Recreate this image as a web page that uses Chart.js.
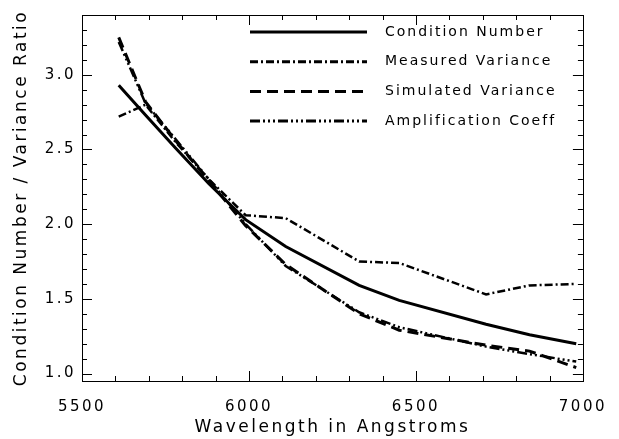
<!DOCTYPE html>
<html lang="en">
  <head>
    <meta charset="UTF-8" />
    <script src="https://cdn.jsdelivr.net/npm/chart.js@4.4.1/dist/chart.umd.min.js"></script>
    <title>Condition Number / Variance Ratio</title>
    <style>
      body { margin: 0; background: #fff; }
      #wrap { width: 619px; height: 439px; }
    </style>
  </head>
  <body>
    <div id="wrap"><canvas id="myChart" width="619" height="439"></canvas></div>
    <script>
      // values
      const wavelength = [5610, 5690, 5780, 5880, 5990, 6110, 6330, 6450, 6710, 6840, 6980];
      const conditionNumber = [2.93, 2.73, 2.51, 2.27, 2.03, 1.85, 1.59, 1.49, 1.33, 1.26, 1.20];
      const measuredVariance = [2.72, 2.80, 2.55, 2.30, 2.06, 2.04, 1.75, 1.74, 1.53, 1.59, 1.60];
      const simulatedVariance = [3.25, 2.82, 2.56, 2.29, 1.99, 1.73, 1.40, 1.29, 1.19, 1.15, 1.04];
      const amplificationCoeff = [3.22, 2.81, 2.57, 2.30, 2.00, 1.72, 1.41, 1.31, 1.18, 1.13, 1.08];
      const xTicks = [5500, 6000, 6500, 7000];
      const yTicks = [1.0, 1.5, 2.0, 2.5, 3.0];

      const pts = (ys) => wavelength.map((x, i) => ({ x: x, y: ys[i] }));

      // IDL style frame with inward major/minor ticks, and a plain legend
      const idlFrame = {
        id: "idlFrame",
        beforeDraw(chart) {
          chart.ctx.letterSpacing = "2.5px";
        },
        afterDatasetsDraw(chart) {
          const ctx = chart.ctx;
          const a = chart.chartArea;
          const xs = chart.scales.x;
          const ys = chart.scales.y;
          ctx.save();
          ctx.strokeStyle = "#000";
          ctx.lineWidth = 1;
          ctx.setLineDash([]);
          ctx.strokeRect(Math.round(a.left) + 0.5, Math.round(a.top) + 0.5,
            Math.round(a.right - a.left), Math.round(a.bottom - a.top));
          ctx.beginPath();
          for (let v = 5500; v <= 7000; v += 100) {
            const px = Math.round(xs.getPixelForValue(v)) + 0.5;
            const len = v % 500 === 0 ? 10 : 5;
            ctx.moveTo(px, a.bottom); ctx.lineTo(px, a.bottom - len);
            ctx.moveTo(px, a.top); ctx.lineTo(px, a.top + len);
          }
          for (let k = 10; k <= 33; k++) {
            const v = k / 10;
            const py = Math.round(ys.getPixelForValue(v)) + 0.5;
            const len = k % 5 === 0 ? 10 : 5;
            ctx.moveTo(a.left, py); ctx.lineTo(a.left + len, py);
            ctx.moveTo(a.right, py); ctx.lineTo(a.right - len, py);
          }
          ctx.stroke();

          // legend
          ctx.font = "14px 'DejaVu Sans'";
          ctx.letterSpacing = "2px";
          ctx.fillStyle = "#000";
          ctx.textBaseline = "middle";
          ctx.textAlign = "left";
          chart.data.datasets.forEach((ds, i) => {
            const y = 32 + i * 29.7;
            ctx.beginPath();
            ctx.lineWidth = 3;
            ctx.setLineDash(ds.borderDash || []);
            ctx.moveTo(250, y);
            ctx.lineTo(367, y);
            ctx.stroke();
            ctx.fillText(ds.label, 385, y);
          });
          ctx.restore();
        },
      };

      const ctx = document.getElementById("myChart").getContext("2d");
      Chart.defaults.font.family = "'DejaVu Sans'";
      Chart.defaults.font.size = 15;
      Chart.defaults.color = "#000";

      const myChart = new Chart(ctx, {
        type: "line",
        data: {
          datasets: [
            { label: "Condition Number", data: pts(conditionNumber), borderDash: [], borderWidth: 3 },
            { label: "Measured Variance", data: pts(measuredVariance), borderDash: [8, 3, 2, 3], borderWidth: 2.5 },
            { label: "Simulated Variance", data: pts(simulatedVariance), borderDash: [11, 6], borderWidth: 3 },
            { label: "Amplification Coeff", data: pts(amplificationCoeff), borderDash: [10, 3, 2, 3, 2, 3, 2, 3], borderWidth: 2.5 },
          ].map((d) => Object.assign(d, {
            borderColor: "#000",
            backgroundColor: "#000",
            pointRadius: 0,
            tension: 0,
            fill: false,
          })),
        },
        options: {
          responsive: false,
          animation: false,
          layout: { padding: { top: 9, right: 33, left: 0, bottom: 0 } },
          plugins: { legend: { display: false }, tooltip: { enabled: false } },
          scales: {
            x: {
              type: "linear",
              min: 5500,
              max: 7000,
              grid: { display: false, drawTicks: false },
              border: { display: false },
              afterBuildTicks: (s) => { s.ticks = xTicks.map((v) => ({ value: v })); },
              ticks: { padding: 17, maxRotation: 0, callback: (v) => String(v) },
              title: { display: true, text: "Wavelength in Angstroms", font: { size: 17 }, padding: { top: 0, bottom: 1 } },
              afterFit: (s) => { s.height = 58; },
            },
            y: {
              min: 0.95,
              max: 3.4,
              grid: { display: false, drawTicks: false },
              border: { display: false },
              afterBuildTicks: (s) => { s.ticks = yTicks.map((v) => ({ value: v })); },
              ticks: { padding: 6, callback: (v) => v.toFixed(1) },
              title: { display: true, text: "Condition Number / Variance Ratio", font: { size: 17 }, padding: { top: 11, bottom: 0 } },
              afterFit: (s) => { s.width = 82; },
            },
          },
        },
        plugins: [idlFrame],
      });
    </script>
  </body>
</html>
